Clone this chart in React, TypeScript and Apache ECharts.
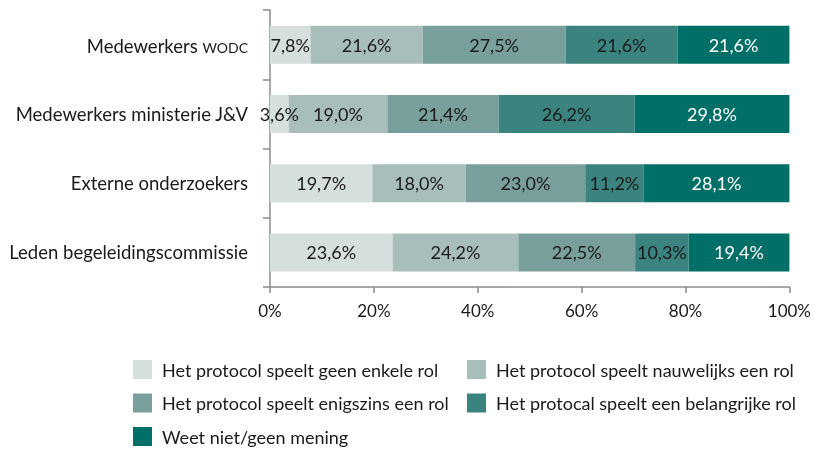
import React, { useEffect, useRef } from "react";
import * as echarts from "echarts";

const categories = [
  "Medewerkers WODC",
  "Medewerkers ministerie J&V",
  "Externe onderzoekers",
  "Leden begeleidingscommissie",
];

const seriesNames = [
  "Het protocol speelt geen enkele rol",
  "Het protocol speelt nauwelijks een rol",
  "Het protocol speelt enigszins een rol",
  "Het protocal speelt een belangrijke rol",
  "Weet niet/geen mening",
];

const geenEnkele = [7.8, 3.6, 19.7, 23.6];
const nauwelijks = [21.6, 19.0, 18.0, 24.2];
const enigszins = [27.5, 21.4, 23.0, 22.5];
const belangrijk = [21.6, 26.2, 11.2, 10.3];
const weetNiet = [21.6, 29.8, 28.1, 19.4];

const xTicks = [0, 20, 40, 60, 80, 100];

const colors = ["#d5dfdd", "#a8bebb", "#789f9b", "#3a837e", "#006f67"];
const labelColors = ["#1a1a1a", "#1a1a1a", "#1a1a1a", "#1a1a1a", "#ffffff"];

const FONT = "Lato";

export default function App() {
  const ref = useRef<HTMLDivElement>(null);

  useEffect(() => {
    if (!ref.current) return;
    const chart = echarts.init(ref.current, undefined, { renderer: "svg" });
    const values = [geenEnkele, nauwelijks, enigszins, belangrijk, weetNiet];

    const legendCommon = {
      orient: "vertical",
      top: 360,
      padding: 0,
      itemWidth: 19,
      itemHeight: 19,
      itemGap: 14.5,
      icon: "rect",
      textStyle: { fontSize: 18, color: "#1a1a1a", fontFamily: FONT, padding: [0, 0, 0, 5] },
    };

    chart.setOption({
      animation: false,
      textStyle: { fontFamily: FONT },
      grid: { left: 270, right: 22, top: 10, bottom: 165, containLabel: false },
      xAxis: {
        type: "value",
        min: xTicks[0],
        max: xTicks[xTicks.length - 1],
        interval: 20,
        axisLine: { show: true, lineStyle: { color: "#8c8c8c", width: 1.5 } },
        axisTick: { show: true, length: 6, lineStyle: { color: "#8c8c8c", width: 1.5 } },
        splitLine: { show: false },
        axisLabel: {
          formatter: "{value}%",
          fontSize: 17,
          color: "#1a1a1a",
          margin: 15,
          fontFamily: FONT,
        },
      },
      yAxis: {
        type: "category",
        inverse: true,
        data: categories,
        axisLine: { show: true, lineStyle: { color: "#8c8c8c", width: 1.5 } },
        axisTick: { show: true, length: 7, lineStyle: { color: "#8c8c8c", width: 1.5 } },
        axisLabel: {
          fontSize: 18.5,
          color: "#1a1a1a",
          margin: 22,
          fontFamily: FONT,
          formatter: (v: string) =>
            v.endsWith("WODC")
              ? "{n|" + v.replace(" WODC", " ") + "}{sc|WODC}"
              : v,
          rich: {
            n: { fontSize: 18.5, color: "#1a1a1a", fontFamily: FONT, verticalAlign: "bottom", lineHeight: 22 },
            sc: { fontSize: 14, color: "#1a1a1a", fontFamily: FONT, verticalAlign: "bottom", lineHeight: 22, padding: [0, 0, 1, 0] },
          },
        },
      },
      legend: [
        { ...legendCommon, left: 133, data: [seriesNames[0], seriesNames[2], seriesNames[4]] },
        { ...legendCommon, left: 467, data: [seriesNames[1], seriesNames[3]] },
      ],
      series: seriesNames.map((name, i) => ({
        name,
        type: "bar",
        stack: "total",
        barWidth: 38,
        data: values[i],
        itemStyle: { color: colors[i] },
        label: {
          show: true,
          position: "inside",
          fontSize: 18,
          fontFamily: FONT,
          color: labelColors[i],
          formatter: (p: any) => p.value.toFixed(1).replace(".", ",") + "%",
        },
      })),
    });

    return () => chart.dispose();
  }, []);

  return (
    <div
      ref={ref}
      style={{ position: "fixed", left: 0, top: 0, width: 814, height: 452 }}
    />
  );
}
